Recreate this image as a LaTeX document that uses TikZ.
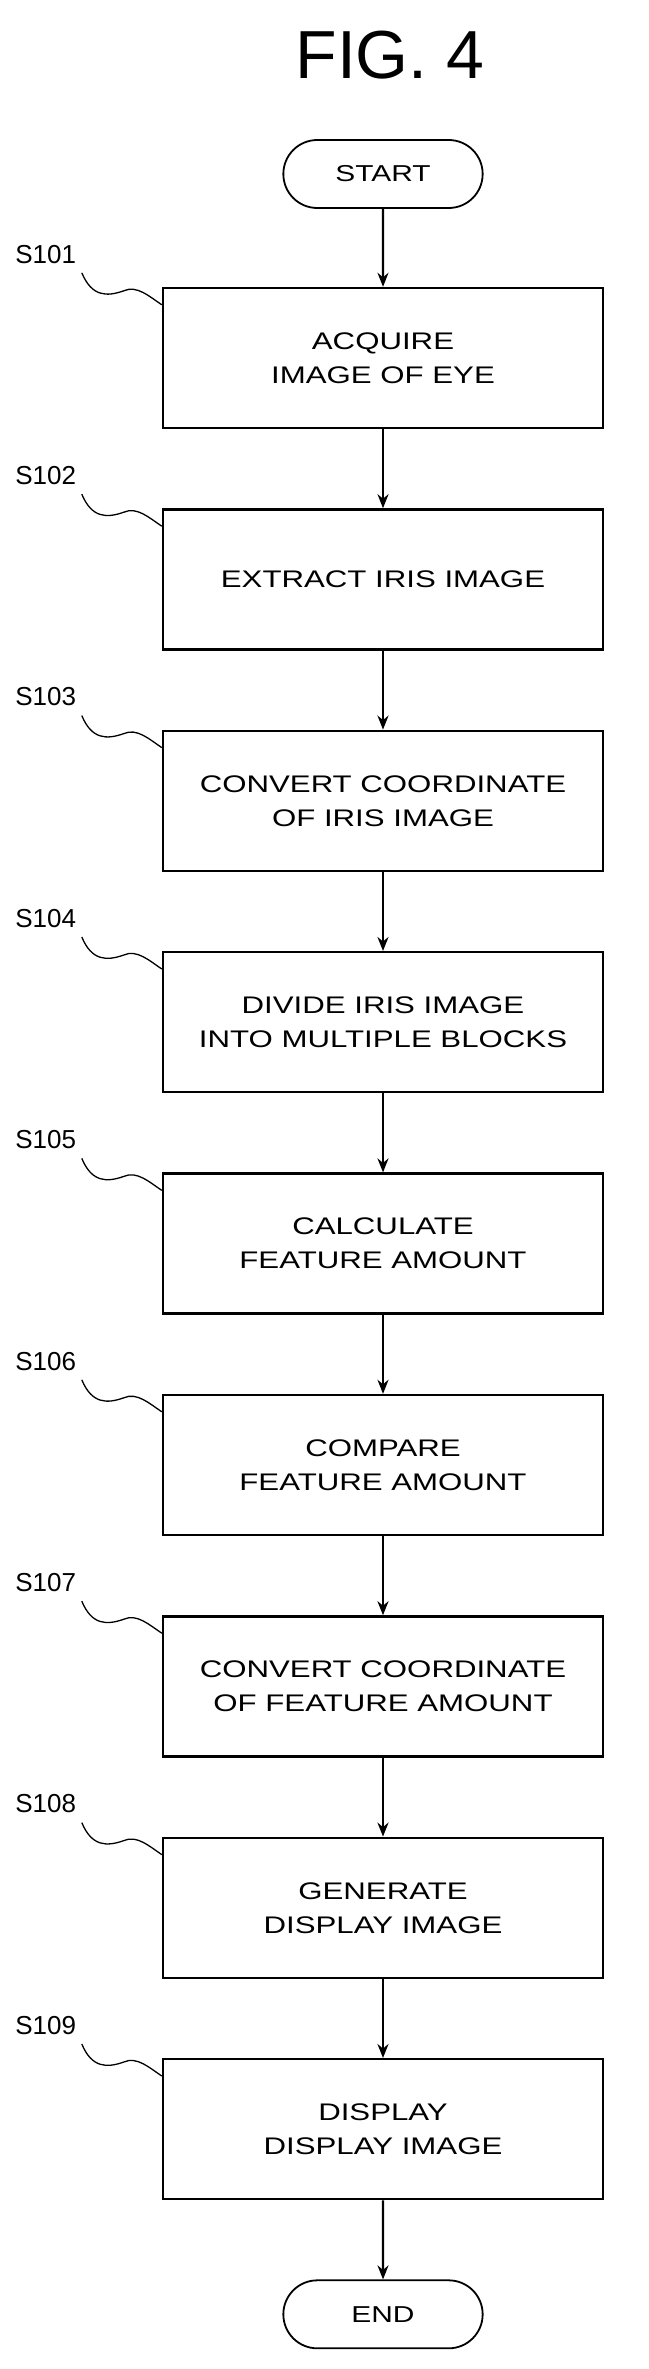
\documentclass[tikz,border=0pt]{standalone}
\usepackage{fontspec}
\setmainfont{Liberation Sans}
\newfontfamily\widefont{Liberation Sans}[FakeStretch=1.3]
\usetikzlibrary{positioning,shapes.misc,arrows.meta}
\begin{document}
\begin{tikzpicture}[x=1pt,y=-1pt]
        \def\stepgap{79pt}
        \def\stepw{440pt}
        \def\steph{140pt}
        \def\boxlinewidth{2.4pt}
        \tikzset{stepbox/.style={rectangle, draw, line width=\boxlinewidth, minimum width=\stepw, minimum height=\steph, align=center, font=\widefont\fontsize{24}{34}\selectfont},
                 termbox/.style={rounded rectangle, draw, line width=1.8pt, minimum width=206pt, minimum height=68pt, font=\widefont\fontsize{23}{27}\selectfont},
                 steplabel/.style={font=\fontsize{26}{30}\selectfont},
                 flow/.style={-{Stealth[length=14pt,width=11pt]}, line width=\boxlinewidth},
                 lead/.style={line width=1.3pt}}

        \useasboundingbox (0,0) rectangle (648,2369);
        \node[font=\fontsize{68}{76}\selectfont] (title) at (390, 55) {FIG.\ 4};

        \node[termbox] (start) at (383, 174) {START};
        \node[stepbox] (s1) at (383, 358) {ACQUIRE\\IMAGE OF EYE};
        \node[stepbox, below = \stepgap of s1] (s2) {EXTRACT IRIS IMAGE};
        \node[stepbox, below = \stepgap of s2] (s3) {CONVERT COORDINATE\\OF IRIS IMAGE};
        \node[stepbox, below = \stepgap of s3] (s4) {DIVIDE IRIS IMAGE\\INTO MULTIPLE BLOCKS};
        \node[stepbox, below = \stepgap of s4] (s5) {CALCULATE\\FEATURE AMOUNT};
        \node[stepbox, below = \stepgap of s5] (s6) {COMPARE\\FEATURE AMOUNT};
        \node[stepbox, below = \stepgap of s6] (s7) {CONVERT COORDINATE\\OF FEATURE AMOUNT};
        \node[stepbox, below = \stepgap of s7] (s8) {GENERATE\\DISPLAY IMAGE};
        \node[stepbox, below = \stepgap of s8] (s9) {DISPLAY\\DISPLAY IMAGE};
        \node[termbox, below = 79pt of s9] (end) {END};

        \draw[flow] (start) -- (s1);
        \foreach \a/\b in {s1/s2, s2/s3, s3/s4, s4/s5, s5/s6, s6/s7, s7/s8, s8/s9, s9/end}
            \draw[flow] (\a) -- (\b);

        % wavy leaders from the step labels
        \foreach \i in {1,...,9} {
            \node[steplabel, anchor=south west] (l\i) at ([xshift=-150pt, yshift=20pt]s\i.north west) {S10\i};
            \draw[lead] ([xshift=70pt, yshift=-6pt]l\i.south west) .. controls ([xshift=80pt, yshift=-30pt]l\i.south west) and ([xshift=95pt, yshift=-30pt]l\i.south west) .. ([xshift=112pt, yshift=-24pt]l\i.south west)
                .. controls ([xshift=125pt, yshift=-18pt]l\i.south west) and ([xshift=138pt, yshift=-30pt]l\i.south west) .. ([yshift=-18pt]s\i.north west);
        }
    \end{tikzpicture}
\end{document}
